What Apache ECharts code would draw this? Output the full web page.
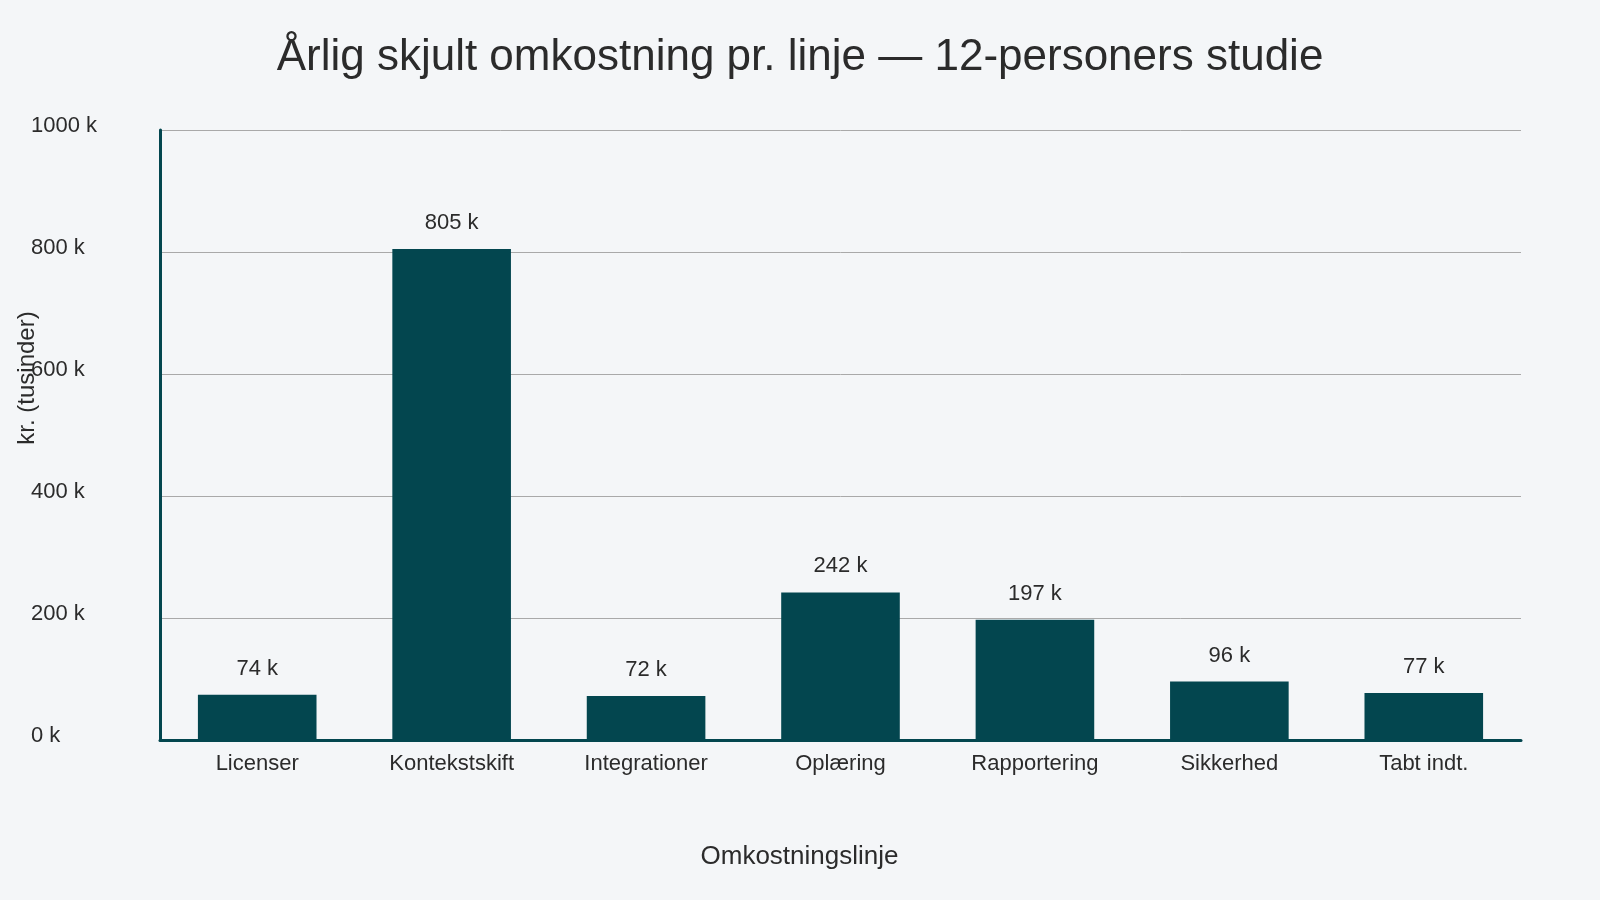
<!DOCTYPE html>
<html>
<head>
<meta charset="utf-8">
<script src="https://cdn.jsdelivr.net/npm/echarts@6/dist/echarts.min.js"></script>
<style>
  html, body { margin: 0; padding: 0; background: #f4f6f8; }
  #chart { width: 1600px; height: 900px; }
</style>
</head>
<body>
<div id="chart"></div>
<script>
// omkostningslinjer og værdier (tusinder kr.)
const categories = ['Licenser', 'Kontekstskift', 'Integrationer', 'Oplæring', 'Rapportering', 'Sikkerhed', 'Tabt indt.'];
const values = [74, 805, 72, 242, 197, 96, 77];
const yTicks = [0, 200, 400, 600, 800, 1000];

const barColor = '#03464f';
const textColor = '#2b2b2b';
const fontFamily = '"Liberation Sans", Arial, sans-serif';

const chart = echarts.init(document.getElementById('chart'));

const option = {
    backgroundColor: '#f4f6f8',
    animation: false,
    title: {
        text: 'Årlig skjult omkostning pr. linje — 12-personers studie',
        left: 'center',
        top: 31,
        textStyle: {
            fontFamily: fontFamily,
            fontSize: 44,
            fontWeight: 'normal',
            color: textColor
        }
    },
    grid: {
        left: 160,
        right: 79,
        top: 130,
        bottom: 160,
        containLabel: false,
        outerBoundsMode: 'none'
    },
    xAxis: {
        type: 'category',
        data: categories,
        name: 'Omkostningslinje',
        nameLocation: 'middle',
        nameGap: 104,
        nameTextStyle: {
            fontFamily: fontFamily, fontSize: 26, color: textColor,
            padding: [0, 82, 0, 0]
        },
        axisLine: { lineStyle: { color: barColor, width: 3 } },
        axisTick: { show: false },
        axisLabel: { fontFamily: fontFamily, fontSize: 22, color: textColor, margin: 13 }
    },
    yAxis: {
        type: 'value',
        min: yTicks[0],
        max: yTicks[yTicks.length - 1],
        interval: 200,
        name: 'kr. (tusinder)',
        nameLocation: 'middle',
        nameGap: 121,
        nameMoveOverlap: false,
        nameTextStyle: {
            fontFamily: fontFamily, fontSize: 24, color: textColor,
            padding: [0, 0, 0, 114]
        },
        axisLine: { show: true, lineStyle: { color: barColor, width: 3 } },
        axisTick: { show: false },
        splitLine: { lineStyle: { color: '#a9a9a9', width: 1 } },
        axisLabel: {
            fontFamily: fontFamily, fontSize: 22, color: textColor,
            align: 'left', margin: 129,
            verticalAlign: 'bottom',
            lineHeight: 8,
            formatter: v => v + ' k'
        }
    },
    series: [{
        type: 'bar',
        data: values,
        barWidth: '61%',
        itemStyle: { color: barColor },
        label: {
            show: true,
            position: 'top',
            distance: 15,
            fontFamily: fontFamily,
            fontSize: 22,
            color: textColor,
            formatter: p => p.value + ' k'
        }
    }]
};

chart.setOption(option);
</script>
</body>
</html>
